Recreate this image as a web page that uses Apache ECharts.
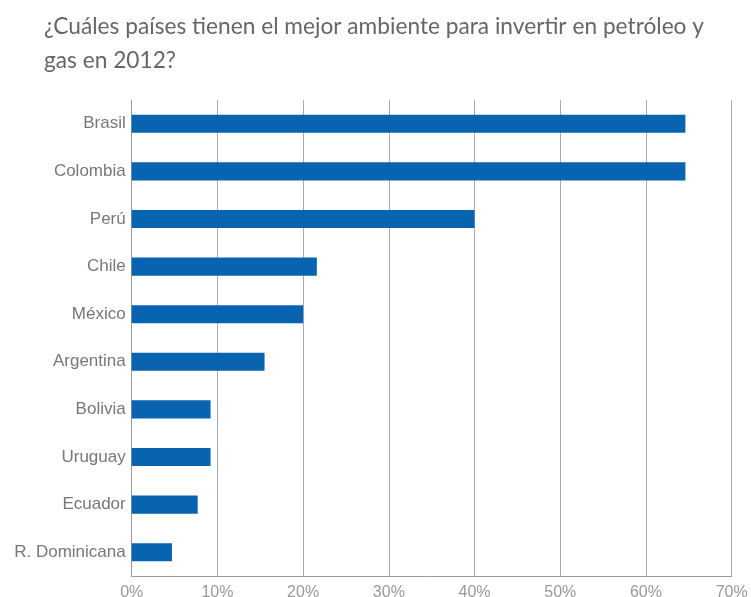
<!DOCTYPE html>
<html>
<head>
<meta charset="utf-8">
<script src="https://cdn.jsdelivr.net/npm/echarts@6/dist/echarts.min.js"></script>
<style>
    html, body { margin: 0; padding: 0; background: #fff; }
    #Bar { width: 751px; height: 597px; }
</style>
</head>
<body>
<div id="Bar"></div>
<script>
// datos
const paises = ['Brasil', 'Colombia', 'Perú', 'Chile', 'México', 'Argentina', 'Bolivia', 'Uruguay', 'Ecuador', 'R. Dominicana'];
const porcentajes = [64.6, 64.6, 40.0, 21.6, 20.0, 15.5, 9.2, 9.2, 7.7, 4.7];
const ejeX = { min: 0, max: 70, interval: 10 };

let myChart = echarts.init(document.getElementById('Bar'));
myChart.setOption({
    title: {
        text: '¿Cuáles países tienen el mejor ambiente para invertir en petróleo y\ngas en 2012?',
        left: 39,
        top: 5,
        textStyle: {
            fontFamily: 'Lato',
            fontSize: 22.7,
            fontWeight: 'normal',
            color: '#666',
            lineHeight: 34
        }
    },
    grid: {left: 131.7, right: 19.3, top: 100, bottom: 21, outerBoundsMode: 'none'},
    xAxis: {
        type: 'value',
        min: ejeX.min,
        max: ejeX.max,
        interval: ejeX.interval,
        axisLine: {show: true, lineStyle: {color: '#999'}},
        axisTick: {show: false},
        splitLine: {lineStyle: {color: '#aaa', width: 1}},
        axisLabel: {
            formatter: '{value}%',
            fontFamily: 'Liberation Sans',
            fontSize: 16,
            color: '#999',
            margin: 9
        }
    },
    yAxis: {
        type: 'category',
        data: paises,
        inverse: true,
        axisLine: {show: true, lineStyle: {color: '#999'}},
        axisTick: {show: false},
        axisLabel: {
            fontFamily: 'Liberation Sans',
            fontSize: 17,
            color: '#777',
            margin: 6
        }
    },
    series: [{
        type: 'bar',
        data: porcentajes,
        barWidth: '38%',
        itemStyle: {color: '#0863b0'}
    }]
});
</script>
</body>
</html>
